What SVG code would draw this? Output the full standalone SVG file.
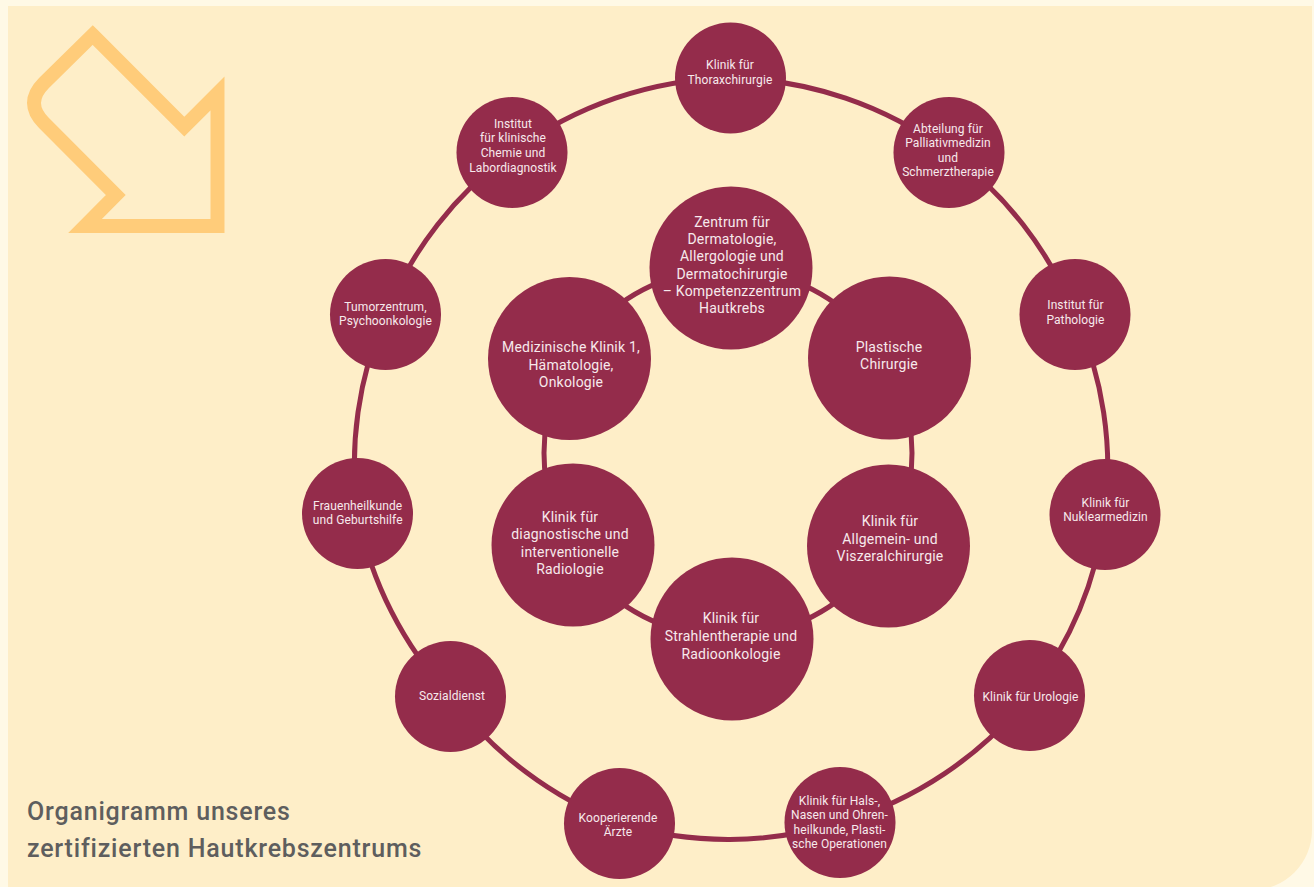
<svg xmlns="http://www.w3.org/2000/svg" width="1314" height="887" viewBox="0 0 1314 887">
<style>
.node{fill:#942C4B}
.ring{fill:none;stroke:#942C4B;stroke-width:5}
.s{font-family:Roboto,"Liberation Sans",sans-serif;font-size:12px;fill:#F7E9EC;text-anchor:middle;letter-spacing:0.1px}
.l{font-family:Roboto,"Liberation Sans",sans-serif;font-size:14px;fill:#F7E9EC;text-anchor:middle;letter-spacing:0.2px}
.title{font-family:Roboto,"Liberation Sans",sans-serif;font-size:25px;font-weight:500;fill:#5E5E5E;letter-spacing:0.8px}
</style>
<rect x="0" y="0" width="1314" height="887" fill="#FFF9E6"/>
<path d="M8 6 H1312 V830 A60 60 0 0 1 1252 890 H8 Z" fill="#FEEEC8"/>
<path d="M92.7 35 L184.3 126.7 L217.5 93.5 L217.5 226 L85 226 L115.8 195 L44 123 Q24 103 44 83 Z" fill="none" stroke="#FFCC7A" stroke-width="14" stroke-linejoin="miter"/>
<g id="connectors">
<path class="ring" d="M730.5 78 A378 378 0 0 1 949 152.5 A378 378 0 0 1 1075 314.5 A378 378 0 0 1 1105 514.5 A378 378 0 0 1 1029.5 695.5 A378 378 0 0 1 840 822.5 A378 378 0 0 1 619.5 823.5 A378 378 0 0 1 450.5 696.5 A378 378 0 0 1 357.5 513.5 A378 378 0 0 1 385.5 314.5 A378 378 0 0 1 512 152.5 A378 378 0 0 1 730.5 78"/>
<circle class="ring" cx="728" cy="453" r="184"/>
</g>
<g id="n-thorax"><circle class="node" cx="730.5" cy="78" r="55.5"/><text class="s" x="730" y="69.3">Klinik für</text><text class="s" x="730" y="84">Thoraxchirurgie</text></g>
<g id="n-palliativ"><circle class="node" cx="949" cy="152.5" r="55.5"/><text class="s" x="948" y="132.6">Abteilung für</text><text class="s" x="948" y="147.2">Palliativmedizin</text><text class="s" x="948" y="161.8">und</text><text class="s" x="948" y="176.4">Schmerztherapie</text></g>
<g id="n-pathologie"><circle class="node" cx="1075" cy="314.5" r="55.5"/><text class="s" x="1075.5" y="309.3">Institut für</text><text class="s" x="1075.5" y="324.3">Pathologie</text></g>
<g id="n-nuklear"><circle class="node" cx="1105" cy="514.5" r="55.5"/><text class="s" x="1105.5" y="506.6">Klinik für</text><text class="s" x="1105.5" y="521">Nuklearmedizin</text></g>
<g id="n-urologie"><circle class="node" cx="1029.5" cy="695.5" r="55.5"/><text class="s" x="1030.5" y="701">Klinik für Urologie</text></g>
<g id="n-hno"><circle class="node" cx="840" cy="822.5" r="55.5"/><text class="s" x="839.5" y="805">Klinik für Hals-,</text><text class="s" x="839.5" y="819.3">Nasen und Ohren-</text><text class="s" x="839.5" y="833.6">heilkunde, Plasti-</text><text class="s" x="839.5" y="847.9">sche Operationen</text></g>
<g id="n-aerzte"><circle class="node" cx="619.5" cy="823.5" r="55.5"/><text class="s" x="618" y="822">Kooperierende</text><text class="s" x="618" y="836">Ärzte</text></g>
<g id="n-sozial"><circle class="node" cx="450.5" cy="696.5" r="55.5"/><text class="s" x="452" y="700.3">Sozialdienst</text></g>
<g id="n-frauen"><circle class="node" cx="357.5" cy="513.5" r="55.5"/><text class="s" x="357.7" y="510.3">Frauenheilkunde</text><text class="s" x="357.7" y="524.3">und Geburtshilfe</text></g>
<g id="n-tumor"><circle class="node" cx="385.5" cy="314.5" r="55.5"/><text class="s" x="385.5" y="311">Tumorzentrum,</text><text class="s" x="385.5" y="325.3">Psychoonkologie</text></g>
<g id="n-labor"><circle class="node" cx="512" cy="152.5" r="55.5"/><text class="s" x="513" y="127.6">Institut</text><text class="s" x="513" y="142.4">für klinische</text><text class="s" x="513" y="157.2">Chemie und</text><text class="s" x="513" y="172">Labordiagnostik</text></g>
<g id="n-derma"><circle class="node" cx="731" cy="268" r="81.5"/><text class="l" x="732" y="227">Zentrum für</text><text class="l" x="732" y="244.2">Dermatologie,</text><text class="l" x="732" y="261.4">Allergologie und</text><text class="l" x="732" y="278.6">Dermatochirurgie</text><text class="l" x="732" y="295.8">– Kompetenzzentrum</text><text class="l" x="732" y="313">Hautkrebs</text></g>
<g id="n-plastisch"><circle class="node" cx="889.5" cy="358" r="81.5"/><text class="l" x="889" y="351.7">Plastische</text><text class="l" x="889" y="369">Chirurgie</text></g>
<g id="n-allgemein"><circle class="node" cx="888.5" cy="546" r="81.5"/><text class="l" x="890" y="526">Klinik für</text><text class="l" x="890" y="543.7">Allgemein- und</text><text class="l" x="890" y="561.4">Viszeralchirurgie</text></g>
<g id="n-strahlen"><circle class="node" cx="732" cy="639" r="81.5"/><text class="l" x="731" y="623.3">Klinik für</text><text class="l" x="731" y="641">Strahlentherapie und</text><text class="l" x="731" y="658.5">Radioonkologie</text></g>
<g id="n-radiologie"><circle class="node" cx="573" cy="545" r="81.5"/><text class="l" x="570" y="521.7">Klinik für</text><text class="l" x="570" y="539.2">diagnostische und</text><text class="l" x="570" y="556.7">interventionelle</text><text class="l" x="570" y="574.2">Radiologie</text></g>
<g id="n-medizin"><circle class="node" cx="569.5" cy="358.5" r="81.5"/><text class="l" x="571" y="352">Medizinische Klinik 1,</text><text class="l" x="571" y="369.5">Hämatologie,</text><text class="l" x="571" y="387">Onkologie</text></g>
<text class="title" x="27" y="820">Organigramm unseres</text>
<text class="title" x="27" y="857">zertifizierten Hautkrebszentrums</text>
</svg>
